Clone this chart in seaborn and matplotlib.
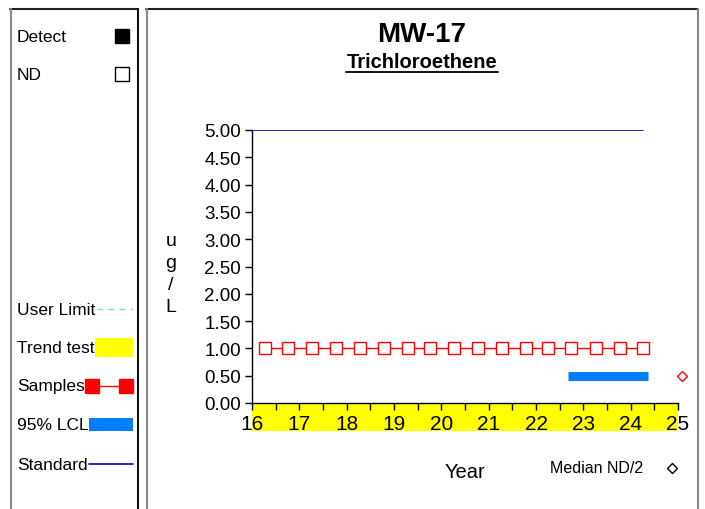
import matplotlib
matplotlib.use("Agg")
import matplotlib.pyplot as plt
from matplotlib.patches import Rectangle
from matplotlib.lines import Line2D
from matplotlib.ticker import MultipleLocator, FormatStrFormatter
import seaborn as sns
import pandas as pd

# Sampling events (decimal year, last two digits) and reported values, ug/L
sample_years = [16.27, 16.77, 17.26, 17.77, 18.28, 18.79, 19.29, 19.75, 20.26,
                20.77, 21.29, 21.79, 22.25, 22.74, 23.27, 23.78, 24.27]
sample_values = [1.0, 1.0, 1.0, 1.0, 1.0, 1.0, 1.0, 1.0, 1.0,
                 1.0, 1.0, 1.0, 1.0, 1.0, 1.0, 1.0, 1.0]
sample_detected = [False] * len(sample_years)

standard_value = 5.0
lcl_value = 0.5
lcl_years = [22.67, 24.37]
median_nd_half = 0.5
median_year = 25.08

well_name = "MW-17"
analyte = "Trichloroethene"
y_ticks = [0.0, 0.5, 1.0, 1.5, 2.0, 2.5, 3.0, 3.5, 4.0, 4.5, 5.0]
x_ticks = [16, 17, 18, 19, 20, 21, 22, 23, 24, 25]
legend_labels = ["Detect", "ND", "User Limit", "Trend test", "Samples", "95% LCL", "Standard"]

W, H = 705, 510
sns.set_style("white")
plt.rcParams["font.family"] = ["Liberation Sans", "DejaVu Sans"]
plt.rcParams["text.color"] = "black"
plt.rcParams["xtick.color"] = "black"
plt.rcParams["ytick.color"] = "black"
plt.rcParams["axes.labelcolor"] = "black"

fig = plt.figure(figsize=(W / 100, H / 100), dpi=100)


def fx(x):
    return x / W


def fy(y):
    return 1 - y / H


ax = fig.add_axes([fx(252), fy(404), (678 - 252) / W, (404 - 131) / H])
ax.set_xlim(16, 25)
ax.set_ylim(0, 5)
ax.set_axisbelow(False)

df = pd.DataFrame({"year": sample_years, "value": sample_values})
sns.lineplot(data=df, x="year", y="value", ax=ax, color="#FF0000", lw=1,
             marker="s", markersize=8.5, markerfacecolor="white",
             markeredgecolor="#FF0000", markeredgewidth=1, zorder=4)

# regulatory standard
ax.plot([16, sample_years[-1]], [standard_value, standard_value],
        color="#0000CC", lw=1.2, zorder=3)
# 95% lower confidence limit
ax.plot(lcl_years, [lcl_value, lcl_value], color="#0080FF", lw=6.5,
        solid_capstyle="butt", zorder=3)
# median of non-detects / 2
ax.plot([median_year], [median_nd_half], marker="D", markersize=5.5,
        markerfacecolor="white", markeredgecolor="#FF0000", markeredgewidth=1,
        clip_on=False, zorder=5)

# trend-test band under the time axis
ax.add_patch(Rectangle((0, -28 / 273), 1, 28 / 273, transform=ax.transAxes,
                       facecolor="#FFFF00", edgecolor="none", clip_on=False,
                       zorder=0.1))

for s in ["top", "right"]:
    ax.spines[s].set_visible(False)
for s in ["left", "bottom"]:
    ax.spines[s].set_color("black")
    ax.spines[s].set_linewidth(1)

ax.set_yticks(y_ticks)
ax.yaxis.set_major_formatter(FormatStrFormatter("%.2f"))
ax.set_xticks(x_ticks)
ax.xaxis.set_minor_locator(MultipleLocator(0.5))
ax.tick_params(axis="y", which="major", direction="out", length=5, width=1,
               labelsize=13.5, pad=3, color="black", left=True)
ax.tick_params(axis="x", which="both", direction="out", length=5, width=1,
               labelsize=15, pad=3, color="black", bottom=True)
ax.set_xlabel("")
ax.set_ylabel("")

# titles
fig.text(fx(422), fy(35), well_name, ha="center", va="center",
         fontsize=20, fontweight="bold")
fig.text(fx(422), fy(63), analyte, ha="center", va="center",
         fontsize=14.5, fontweight="bold")
fig.add_artist(Line2D([fx(346), fx(498)], [fy(73), fy(73)], color="black", lw=1.3))

# axis titles
for ch, yy in zip(["u", "g", "/", "L"], [242, 264, 286, 308]):
    fig.text(fx(171), fy(yy), ch, ha="center", va="center", fontsize=14)
fig.text(fx(465), fy(472), "Year", ha="center", va="center", fontsize=14.5)
fig.text(fx(550), fy(469), "Median ND/2", ha="left", va="center", fontsize=11.5)
fig.add_artist(Line2D([fx(672)], [fy(469)], marker="D", markersize=5.5,
                      markerfacecolor="white", markeredgecolor="black",
                      markeredgewidth=1, linestyle="none"))

# panel frames
def vline(x, y0, y1, c):
    fig.add_artist(Line2D([fx(x), fx(x)], [fy(y0), fy(y1)], color=c, lw=1.5))


def hline(x0, x1, y, c):
    fig.add_artist(Line2D([fx(x0), fx(x1)], [fy(y), fy(y)], color=c, lw=1.5))


hline(10, 138, 9.5, "#222222")
vline(11, 9.5, 512, "#888888")
vline(138, 9.5, 512, "#111111")
hline(146, 698, 9.5, "#222222")
vline(146.5, 9.5, 512, "#888888")
vline(698, 9.5, 512, "#888888")

# legend panel
lab_y = [37.5, 75.5, 310.5, 348.5, 387, 425.5, 465.5]
for lab, yy in zip(legend_labels, lab_y):
    fig.text(fx(17), fy(yy), lab, ha="left", va="center", fontsize=12.5)

fig.add_artist(Line2D([fx(122)], [fy(37)], marker="s", markersize=10,
                      color="black", linestyle="none"))
fig.add_artist(Line2D([fx(122)], [fy(75)], marker="s", markersize=9.5,
                      markerfacecolor="white", markeredgecolor="black",
                      markeredgewidth=1, linestyle="none"))
fig.add_artist(Line2D([fx(97), fx(133)], [fy(310), fy(310)], color="#66E0FF",
                      lw=1, dashes=(4, 4)))
fig.add_artist(Rectangle((fx(95), fy(358)), 38 / W, 19 / H,
                         transform=fig.transFigure, facecolor="#FFFF00",
                         edgecolor="none"))
fig.add_artist(Line2D([fx(92), fx(126)], [fy(387), fy(387)], color="#FF0000",
                      lw=1, marker="s", markersize=10, markerfacecolor="#FF0000",
                      markeredgecolor="#FF0000"))
fig.add_artist(Rectangle((fx(89), fy(432)), 44 / W, 13 / H,
                         transform=fig.transFigure, facecolor="#0080FF",
                         edgecolor="none"))
fig.add_artist(Line2D([fx(89), fx(133)], [fy(465), fy(465)], color="#0000CC", lw=1.2))

fig.savefig("out.png", dpi=100)
